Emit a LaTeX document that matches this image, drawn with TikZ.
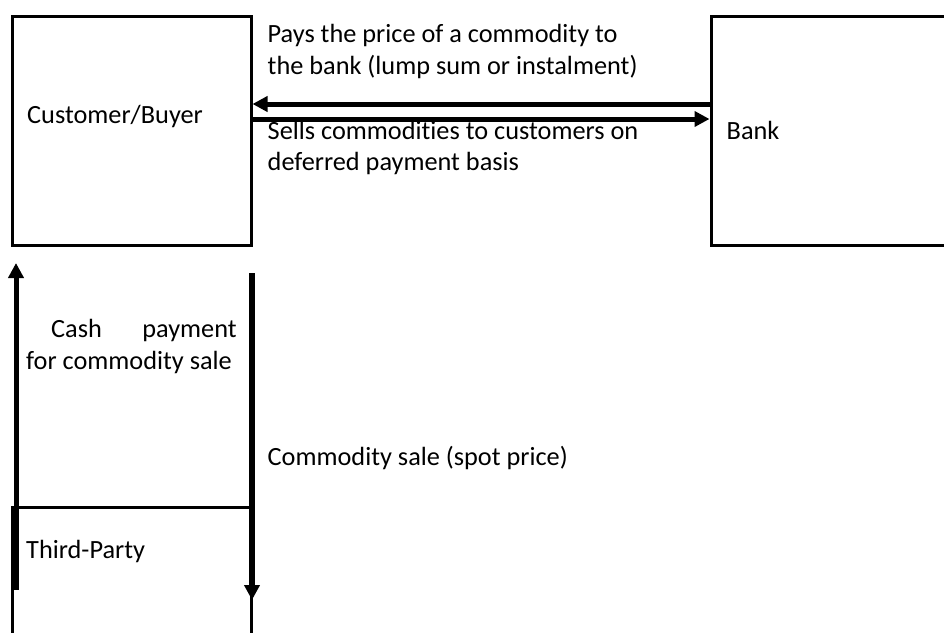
\documentclass[tikz,border=0pt]{standalone}
\usepackage{fontspec}
\setmainfont{Carlito}[Ligatures=NoCommon]
\usetikzlibrary{arrows.meta}
\begin{document}
\begin{tikzpicture}[x=1pt,y=-1pt,
  box/.style={draw=black,line width=3pt,inner sep=0pt,rectangle},
  lbl/.style={inner sep=0pt,anchor=base west,font=\fontsize{26.3}{31.5}\selectfont},
  flow/.style={line width=5pt,-{Triangle[length=15pt,width=15pt]}}]
\clip (0,0) rectangle (944,632);
\fill[white] (0,0) rectangle (944,632);
% boxes
\node[box,minimum width=239pt,minimum height=229pt] (cust) at (131.5,130.5) {};
\node[box,minimum width=260pt,minimum height=229pt] (bank) at (841,130.5) {};
\node[box,minimum width=239pt,minimum height=200pt] (third) at (131.5,607) {};
% labels
\node[lbl] (custlbl) at (27,123.5) {Customer/Buyer};
\node[lbl] (banklbl) at (726.5,139) {Bank};
\node[lbl] (thirdlbl) at (26,558) {Third-Party};
\node[lbl] (paylbl) at (267.5,42.5) {\begin{tabular}[t]{@{}l@{}}Pays the price of a commodity to\\the bank (lump sum or instalment)\end{tabular}};
\node[lbl] (selllbl) at (267.5,139) {\begin{tabular}[t]{@{}l@{}}Sells commodities to customers on\\deferred payment basis\end{tabular}};
\node[lbl] (cashlbl) at (26,337.5) {\begin{tabular}[t]{@{}l@{}}\makebox[210.5pt][l]{\hspace{25pt}Cash\hfill payment}\\for commodity sale\end{tabular}};
\node[lbl] (spotlbl) at (267.5,465.5) {Commodity sale (spot price)};
% connectors
\coordinate (cashStart) at (16,590);
\coordinate (cashEnd) at (16,263);
\coordinate (spotStart) at (252,273);
\coordinate (spotEnd) at (252,600);
\draw[flow] ([yshift=26.5pt]bank.west) -- ([yshift=26.5pt]cust.east);
\draw[flow] ([yshift=11.5pt]cust.east) -- ([yshift=11.5pt]bank.west);
\draw[flow] (cashStart) -- (cashEnd);
\draw[flow,line width=5.5pt] (spotStart) -- (spotEnd);
\end{tikzpicture}
\end{document}
